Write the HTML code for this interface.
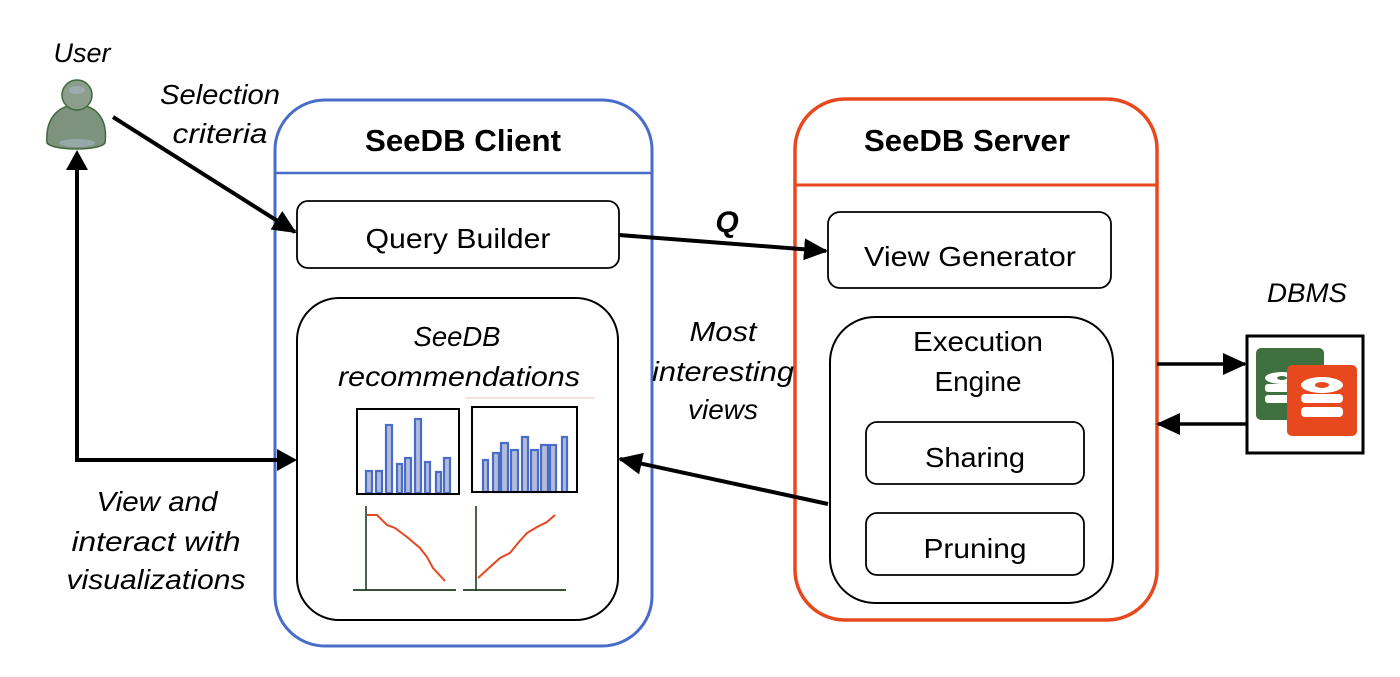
<!DOCTYPE html>
<html><head><meta charset="utf-8"><style>
html,body{margin:0;padding:0;background:#fff;}
svg{display:block;}
text{font-family:"Liberation Sans",sans-serif;fill:#000;}
.i{font-style:italic;}
</style></head><body>
<svg width="1400" height="677" viewBox="0 0 1400 677" xmlns="http://www.w3.org/2000/svg">
<defs>
<marker id="ab" markerWidth="24" markerHeight="22" refX="22" refY="11" orient="auto" markerUnits="userSpaceOnUse" viewBox="0 0 24 22">
<path d="M0,0 L24,11 L0,22 z" fill="#000"/>
</marker>
</defs>

<!-- Client -->
<rect x="275" y="100" width="377" height="546" rx="50" fill="none" stroke="#4a6cc9" stroke-width="3"/>
<line x1="275" y1="173" x2="652" y2="173" stroke="#4a6cc9" stroke-width="2.5"/>
<text x="463" y="151" font-size="31" font-weight="bold" text-anchor="middle" textLength="196" lengthAdjust="spacingAndGlyphs">SeeDB Client</text>
<rect x="297" y="201" width="322" height="67" rx="11" fill="#fff" stroke="#000" stroke-width="1.8"/>
<text x="458" y="248" font-size="28" text-anchor="middle" textLength="185" lengthAdjust="spacingAndGlyphs">Query Builder</text>
<rect x="297" y="298" width="321" height="322" rx="42" fill="#fff" stroke="#000" stroke-width="2"/>
<text class="i" x="457" y="346" font-size="28" text-anchor="middle" textLength="87" lengthAdjust="spacingAndGlyphs">SeeDB</text>
<text class="i" x="459" y="386" font-size="28" text-anchor="middle" textLength="242" lengthAdjust="spacingAndGlyphs">recommendations</text>
<line x1="465" y1="398" x2="595" y2="398" stroke="#f0d8d0" stroke-width="1.5"/>

<!-- bar chart 1 -->
<g fill="#b3bdd9" stroke="#4a6cc9" stroke-width="2.2">
<rect x="366" y="471" width="6" height="22"/>
<rect x="376" y="471" width="6" height="22"/>
<rect x="386" y="425" width="6" height="68"/>
<rect x="397" y="464" width="5" height="29"/>
<rect x="405" y="458" width="6" height="35"/>
<rect x="415" y="419" width="6" height="74"/>
<rect x="425" y="462" width="5" height="31"/>
<rect x="436" y="472" width="5" height="21"/>
<rect x="444" y="458" width="6" height="35"/>
</g>
<rect x="357" y="409" width="102" height="85" fill="none" stroke="#000" stroke-width="2"/>
<g fill="#b3bdd9" stroke="#4a6cc9" stroke-width="2.2">
<rect x="483" y="460" width="5" height="32"/>
<rect x="493" y="453" width="6" height="39"/>
<rect x="501" y="443" width="7" height="49"/>
<rect x="511" y="450" width="7" height="42"/>
<rect x="522" y="437" width="6" height="55"/>
<rect x="531" y="450" width="7" height="42"/>
<rect x="541" y="445" width="7" height="47"/>
<rect x="550" y="445" width="6" height="47"/>
<rect x="562" y="437" width="5" height="55"/>
</g>
<rect x="472" y="407" width="105" height="85" fill="none" stroke="#000" stroke-width="2"/>

<!-- line charts -->
<line x1="366" y1="506" x2="366" y2="590" stroke="#1e3a1e" stroke-width="1.6"/>
<line x1="353" y1="590" x2="456" y2="590" stroke="#1e3a1e" stroke-width="1.8"/>
<polyline points="367,515 377,515 387,525 395,528 407,537 420,548 427,557 433,568 445,581" fill="none" stroke="#e8461e" stroke-width="2"/>
<line x1="476" y1="506" x2="476" y2="590" stroke="#1e3a1e" stroke-width="1.6"/>
<line x1="463" y1="590" x2="566" y2="590" stroke="#1e3a1e" stroke-width="1.8"/>
<polyline points="478,578 490,567 500,558 510,553 518,543 527,533 537,527 547,522 555,515" fill="none" stroke="#e8461e" stroke-width="2"/>

<!-- Server -->
<rect x="795" y="99" width="362" height="521" rx="50" fill="none" stroke="#e8481e" stroke-width="3.5"/>
<line x1="795" y1="185" x2="1157" y2="185" stroke="#e8481e" stroke-width="3"/>
<text x="967" y="151" font-size="31" font-weight="bold" text-anchor="middle" textLength="206" lengthAdjust="spacingAndGlyphs">SeeDB Server</text>
<rect x="828" y="212" width="283" height="76" rx="12" fill="#fff" stroke="#000" stroke-width="1.8"/>
<text x="970" y="266" font-size="28" text-anchor="middle" textLength="212" lengthAdjust="spacingAndGlyphs">View Generator</text>
<rect x="830" y="317" width="283" height="286" rx="45" fill="#fff" stroke="#000" stroke-width="2"/>
<text x="978" y="351" font-size="28" text-anchor="middle" textLength="130" lengthAdjust="spacingAndGlyphs">Execution</text>
<text x="978" y="391" font-size="28" text-anchor="middle" textLength="87" lengthAdjust="spacingAndGlyphs">Engine</text>
<rect x="866" y="422" width="218" height="62" rx="11" fill="#fff" stroke="#000" stroke-width="1.8"/>
<text x="975" y="467" font-size="28" text-anchor="middle" textLength="100" lengthAdjust="spacingAndGlyphs">Sharing</text>
<rect x="866" y="513" width="218" height="62" rx="11" fill="#fff" stroke="#000" stroke-width="1.8"/>
<text x="975" y="558" font-size="28" text-anchor="middle" textLength="103" lengthAdjust="spacingAndGlyphs">Pruning</text>

<!-- DBMS -->
<text class="i" x="1307" y="302" font-size="27" text-anchor="middle" textLength="80" lengthAdjust="spacingAndGlyphs">DBMS</text>
<rect x="1247" y="336" width="116" height="117" fill="#fff" stroke="#000" stroke-width="3"/>
<rect x="1256" y="348" width="68" height="72" rx="5" fill="#3f7040"/>
<g fill="#fff">
<ellipse cx="1282" cy="378" rx="17" ry="6"/>
<rect x="1265" y="384" width="34" height="8" rx="3"/>
<rect x="1265" y="395" width="34" height="8" rx="3"/>
</g>
<rect x="1287" y="365" width="70" height="71" rx="5" fill="#e8481e"/>
<g fill="#fff">
<ellipse cx="1322" cy="385" rx="21" ry="8"/>
<rect x="1301" y="394" width="42" height="9" rx="4"/>
<rect x="1301" y="407" width="42" height="10" rx="4"/>
</g>
<ellipse cx="1322" cy="385" rx="7" ry="3" fill="#e8481e"/>
<ellipse cx="1282" cy="378" rx="5" ry="2" fill="#3f7040"/>
<line x1="1157" y1="364" x2="1245" y2="364" stroke="#000" stroke-width="3.5" marker-end="url(#ab)"/>
<line x1="1247" y1="424" x2="1158" y2="424" stroke="#000" stroke-width="3.5" marker-end="url(#ab)"/>

<!-- User -->
<text class="i" x="82" y="62" font-size="27" text-anchor="middle" textLength="57" lengthAdjust="spacingAndGlyphs">User</text>
<path d="M47,143 C45,120 57,105 77,105 C97,105 108,120 105,143 C100,151 53,151 47,143 Z" fill="#7d937d" stroke="#3f6a3f" stroke-width="1.5"/>
<circle cx="77" cy="95" r="15" fill="#8a9e8a" stroke="#3f6a3f" stroke-width="1.5"/>
<ellipse cx="77" cy="90" rx="8" ry="4" fill="#a8b4c8" opacity="0.6"/>
<ellipse cx="77" cy="143" rx="18" ry="4" fill="#a8b4c8" opacity="0.6"/>

<text class="i" x="220" y="104" font-size="28" text-anchor="middle" textLength="120" lengthAdjust="spacingAndGlyphs">Selection</text>
<text class="i" x="220" y="143" font-size="28" text-anchor="middle" textLength="95" lengthAdjust="spacingAndGlyphs">criteria</text>
<line x1="113" y1="117" x2="295" y2="232" stroke="#000" stroke-width="4" marker-end="url(#ab)"/>

<polyline points="290,460 77,460 77,160" fill="none" stroke="#000" stroke-width="4"/>
<path d="M297,460 L277,449 L277,471 Z" fill="#000"/>
<path d="M77,150 L66,170 L88,170 Z" fill="#000"/>

<text class="i" x="157" y="511" font-size="28" text-anchor="middle" textLength="121" lengthAdjust="spacingAndGlyphs">View and</text>
<text class="i" x="156" y="551" font-size="28" text-anchor="middle" textLength="169" lengthAdjust="spacingAndGlyphs">interact with</text>
<text class="i" x="156" y="589" font-size="28" text-anchor="middle" textLength="179" lengthAdjust="spacingAndGlyphs">visualizations</text>

<!-- Q arrow -->
<line x1="619" y1="235" x2="826" y2="251" stroke="#000" stroke-width="4" marker-end="url(#ab)"/>
<text class="i" x="727" y="232" font-size="30" font-weight="bold" text-anchor="middle">Q</text>

<!-- Most interesting views -->
<text class="i" x="723" y="341" font-size="28" text-anchor="middle" textLength="67" lengthAdjust="spacingAndGlyphs">Most</text>
<text class="i" x="723" y="381" font-size="28" text-anchor="middle" textLength="142" lengthAdjust="spacingAndGlyphs">interesting</text>
<text class="i" x="723" y="419" font-size="28" text-anchor="middle" textLength="70" lengthAdjust="spacingAndGlyphs">views</text>
<line x1="828" y1="504" x2="620" y2="459" stroke="#000" stroke-width="4" marker-end="url(#ab)"/>
</svg>
</body></html>
